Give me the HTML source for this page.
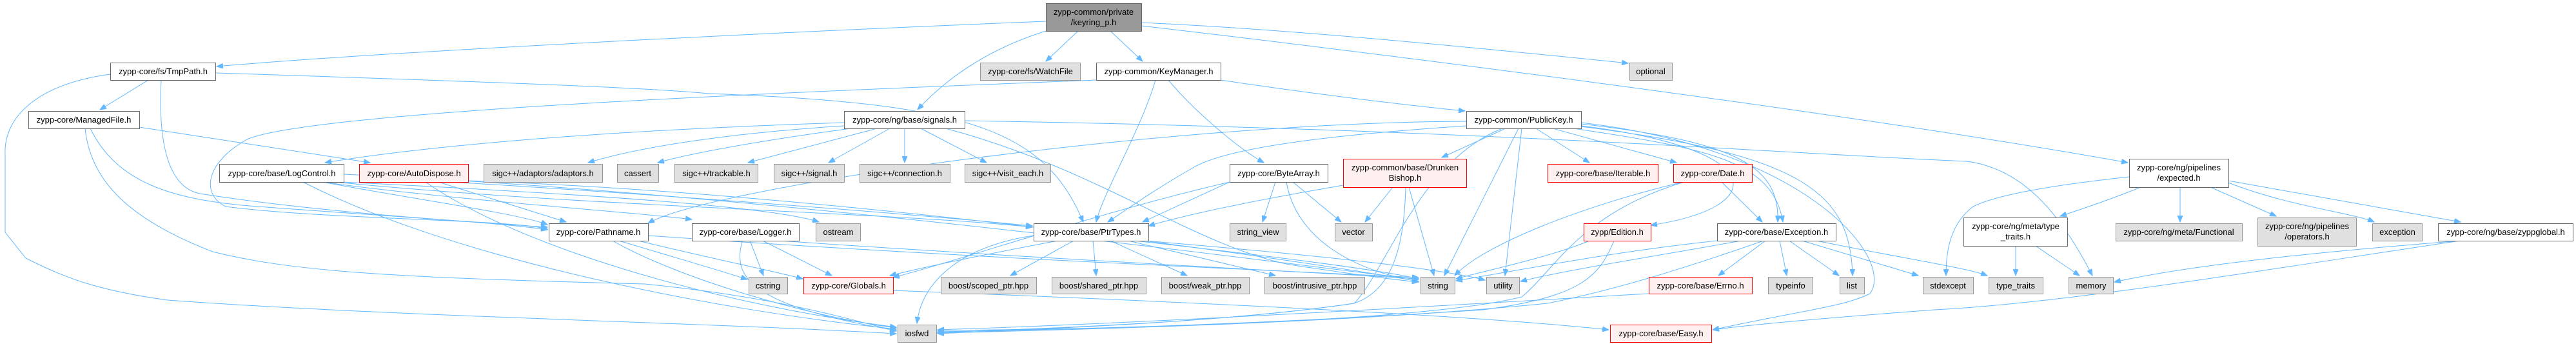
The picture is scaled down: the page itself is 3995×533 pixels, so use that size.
<!DOCTYPE html>
<html><head><meta charset="utf-8"><style>
html,body{margin:0;padding:0;background:#fff}
svg{display:block}
text{font-family:"Liberation Sans",Arial,sans-serif;font-size:13px;fill:#000;text-anchor:middle}
.w{fill:#fff;stroke:#666;stroke-width:1}
.g{fill:#e0e0e0;stroke:#999;stroke-width:1}
.r{fill:#fff0f0;stroke:#f00;stroke-width:1}
.k{fill:#999;stroke:#666;stroke-width:1}
.e path{fill:none;stroke:#63b8ff;stroke-width:1;marker-end:url(#a)}
</style></head><body>
<svg width="3995" height="533" viewBox="0 0 3995 533" xmlns="http://www.w3.org/2000/svg">
<defs><marker id="a" markerUnits="userSpaceOnUse" markerWidth="11" markerHeight="8" refX="10" refY="4" orient="auto"><path d="M0,0 L10,4 L0,8 z" fill="#63b8ff" stroke="#63b8ff"/></marker></defs>
<g class="e">
<path d="M1622,33 C1200,50 600,80 336,103"/>
<path d="M1622,48 C1520,80 1460,130 1423,170"/>
<path d="M1672,48 L1622,95"/>
<path d="M1722,48 L1772,95"/>
<path d="M1770,35 C2000,45 2300,75 2525,98"/>
<path d="M1770,40 C2200,90 2900,180 3300,252"/>
<path d="M1893,124 C2000,140 2150,160 2272,172"/>
<path d="M1700,124 C1300,140 500,170 385,215 C320,250 310,300 350,320 C500,340 800,340 849,355"/>
<path d="M1792,124 C1770,200 1710,300 1700,344"/>
<path d="M1812,124 C1850,170 1920,230 1960,252"/>
<path d="M230,124 L155,170"/>
<path d="M250,124 C245,220 260,290 310,300 C500,330 750,345 849,352"/>
<path d="M171,115 C60,130 5,180 8,240 L8,360 L40,400 C100,430 150,450 260,465 C600,490 1100,500 1390,517"/>
<path d="M334,113 C700,125 1000,135 1100,145 C1500,160 1620,200 1680,344"/>
<path d="M216,197 L574,252"/>
<path d="M140,199 C180,280 260,310 400,320 C600,335 780,345 849,356"/>
<path d="M132,199 C140,280 200,340 330,390 C450,420 600,430 1000,440 C1200,460 1300,490 1390,513"/>
<path d="M1309,190 C1000,200 700,220 504,252"/>
<path d="M1309,195 C1150,205 1000,225 912,252"/>
<path d="M1320,199 C1200,215 1080,235 1020,252"/>
<path d="M1360,199 L1160,252"/>
<path d="M1380,199 L1285,252"/>
<path d="M1403,199 L1403,252"/>
<path d="M1428,199 L1530,252"/>
<path d="M1496,187 C2300,200 2800,240 3050,250 C3130,260 3190,320 3245,427"/>
<path d="M1466,199 C1700,260 1850,380 2000,410 C2100,425 2150,432 2200,437"/>
<path d="M500,282 C650,310 800,330 849,348"/>
<path d="M520,282 C900,320 1400,330 1601,352"/>
<path d="M500,282 C700,310 1000,330 1073,340"/>
<path d="M530,282 C900,300 1200,320 1270,344"/>
<path d="M470,282 C700,400 1100,480 1390,510"/>
<path d="M533,270 C1200,300 2000,410 2200,433"/>
<path d="M680,282 L878,344"/>
<path d="M700,282 C1000,300 1400,330 1601,350"/>
<path d="M660,282 C800,380 1100,470 1390,507"/>
<path d="M726,280 C1300,300 2000,400 2200,436"/>
<path d="M960,373 C1050,400 1120,420 1159,433"/>
<path d="M990,373 C1100,400 1200,420 1245,432"/>
<path d="M950,373 C1050,430 1250,490 1390,508"/>
<path d="M1005,365 C1500,400 2000,420 2200,430"/>
<path d="M1163,373 L1184,427"/>
<path d="M1183,373 L1290,427"/>
<path d="M1151,373 C1140,420 1140,470 1390,512"/>
<path d="M1210,373 C1600,400 2000,420 2200,432"/>
<path d="M1640,373 C1550,390 1450,410 1380,427"/>
<path d="M1665,373 L1567,427"/>
<path d="M1695,373 L1700,427"/>
<path d="M1722,373 L1841,427"/>
<path d="M1750,373 L1978,427"/>
<path d="M1603,365 C1500,380 1430,430 1422,501"/>
<path d="M1760,373 C2000,400 2150,420 2200,432"/>
<path d="M1775,373 C2100,400 2250,420 2303,434"/>
<path d="M1907,282 L1772,344"/>
<path d="M1978,282 L1958,344"/>
<path d="M2005,282 L2080,344"/>
<path d="M1995,282 C2010,370 2100,420 2200,436"/>
<path d="M1907,282 C1700,330 1500,400 1385,430"/>
<path d="M2335,199 L2236,244"/>
<path d="M2382,199 L2465,252"/>
<path d="M2408,199 L2600,252"/>
<path d="M2452,192 C2700,220 2760,260 2757,344"/>
<path d="M2440,199 C2650,230 2750,250 2765,344"/>
<path d="M2452,195 C2740,230 2750,320 2560,349"/>
<path d="M2355,199 L2240,427"/>
<path d="M2360,199 L2334,427"/>
<path d="M2452,196 C2800,240 2870,300 2873,427"/>
<path d="M2452,190 C2800,230 2940,400 2900,455 C2860,475 2800,480 2656,511"/>
<path d="M2274,195 C2050,210 1900,230 1850,260 C1780,300 1740,330 1718,344"/>
<path d="M2274,188 C1800,190 1100,290 1005,346"/>
<path d="M2330,199 C2200,250 2150,420 2100,470 C1900,500 1600,510 1454,515"/>
<path d="M2160,290 L2117,344"/>
<path d="M2185,290 L2224,427"/>
<path d="M2180,290 C2178,380 2160,450 2100,470 C1900,500 1600,510 1454,517"/>
<path d="M2083,287 C1950,310 1850,330 1781,350"/>
<path d="M2670,282 L2733,344"/>
<path d="M2610,282 C2450,320 2300,380 2256,427"/>
<path d="M2612,282 C2450,330 2410,420 2360,460 C2200,500 1700,510 1454,512"/>
<path d="M2465,373 C2400,400 2300,420 2258,432"/>
<path d="M2503,373 C2480,430 2450,460 2300,480 C2000,500 1700,510 1454,514"/>
<path d="M2663,373 C2500,390 2350,420 2258,435"/>
<path d="M2700,373 C2550,400 2420,420 2358,436"/>
<path d="M2738,373 L2665,427"/>
<path d="M2760,373 L2771,427"/>
<path d="M2775,373 L2852,427"/>
<path d="M2795,373 L2975,427"/>
<path d="M2817,373 C2950,400 3050,415 3082,427"/>
<path d="M2735,373 C2600,420 2500,450 2400,470 C2100,500 1700,510 1454,516"/>
<path d="M2557,455 C2300,470 1800,500 1454,511"/>
<path d="M1385,450 C1900,470 2300,490 2495,511"/>
<path d="M3320,290 C3270,310 3240,320 3195,335"/>
<path d="M3381,290 L3381,344"/>
<path d="M3428,290 L3530,335"/>
<path d="M3456,283 C3550,320 3650,330 3682,344"/>
<path d="M3456,280 L3816,344"/>
<path d="M3302,274 C3200,285 3100,300 3060,320 C3020,350 3018,400 3018,427"/>
<path d="M3126,381 L3126,427"/>
<path d="M3157,381 L3225,427"/>
<path d="M3815,373 C3600,390 3400,410 3279,437"/>
<path d="M3815,373 C3500,420 3200,470 3000,480 C2800,495 2700,505 2656,511"/>
</g>
<g>
<rect class="k" x="1622.5" y="5.5" width="148" height="43"/><text x="1696" y="23">zypp-common/private</text><text x="1696" y="39">/keyring_p.h</text>
<rect class="w" x="171.5" y="97.5" width="163" height="27"/><text x="253" y="115">zypp-core/fs/TmpPath.h</text>
<rect class="g" x="1520.5" y="97.5" width="155" height="27"/><text x="1598" y="115">zypp-core/fs/WatchFile</text>
<rect class="w" x="1700.5" y="97.5" width="193" height="27"/><text x="1797" y="115">zypp-common/KeyManager.h</text>
<rect class="g" x="2527.5" y="97.5" width="66" height="27"/><text x="2560" y="115">optional</text>
<rect class="w" x="44.5" y="172.5" width="172" height="27"/><text x="130" y="190">zypp-core/ManagedFile.h</text>
<rect class="w" x="1309.5" y="172.5" width="187" height="27"/><text x="1403" y="190">zypp-core/ng/base/signals.h</text>
<rect class="w" x="2274.5" y="172.5" width="178" height="27"/><text x="2363" y="190">zypp-common/PublicKey.h</text>
<rect class="w" x="3302.5" y="246.5" width="154" height="44"/><text x="3379" y="264">zypp-core/ng/pipelines</text><text x="3379" y="280">/expected.h</text>
<rect class="w" x="340.5" y="254.5" width="193" height="28"/><text x="437" y="273">zypp-core/base/LogControl.h</text>
<rect class="r" x="557.5" y="254.5" width="169" height="28"/><text x="642" y="273">zypp-core/AutoDispose.h</text>
<rect class="g" x="750.5" y="254.5" width="184" height="28"/><text x="842" y="273">sigc++/adaptors/adaptors.h</text>
<rect class="g" x="957.5" y="254.5" width="64" height="28"/><text x="989" y="273">cassert</text>
<rect class="g" x="1046.5" y="254.5" width="129" height="28"/><text x="1111" y="273">sigc++/trackable.h</text>
<rect class="g" x="1200.5" y="254.5" width="109" height="28"/><text x="1255" y="273">sigc++/signal.h</text>
<rect class="g" x="1333.5" y="254.5" width="140" height="28"/><text x="1403" y="273">sigc++/connection.h</text>
<rect class="g" x="1496.5" y="254.5" width="133" height="28"/><text x="1563" y="273">sigc++/visit_each.h</text>
<rect class="w" x="1907.5" y="254.5" width="152" height="28"/><text x="1983" y="273">zypp-core/ByteArray.h</text>
<rect class="r" x="2083.5" y="246.5" width="191" height="44"/><text x="2179" y="264">zypp-common/base/Drunken</text><text x="2179" y="280">Bishop.h</text>
<rect class="r" x="2400.5" y="254.5" width="171" height="28"/><text x="2486" y="273">zypp-core/base/Iterable.h</text>
<rect class="r" x="2595.5" y="254.5" width="122" height="28"/><text x="2656" y="273">zypp-core/Date.h</text>
<rect class="w" x="851.5" y="346.5" width="154" height="27"/><text x="928" y="364">zypp-core/Pathname.h</text>
<rect class="w" x="1073.5" y="346.5" width="166" height="27"/><text x="1156" y="364">zypp-core/base/Logger.h</text>
<rect class="g" x="1265.5" y="346.5" width="69" height="27"/><text x="1300" y="364">ostream</text>
<rect class="w" x="1603.5" y="346.5" width="178" height="27"/><text x="1692" y="364">zypp-core/base/PtrTypes.h</text>
<rect class="g" x="1907.5" y="346.5" width="87" height="27"/><text x="1951" y="364">string_view</text>
<rect class="g" x="2070.5" y="346.5" width="58" height="27"/><text x="2099" y="364">vector</text>
<rect class="r" x="2456.5" y="346.5" width="104" height="27"/><text x="2508" y="364">zypp/Edition.h</text>
<rect class="w" x="2663.5" y="346.5" width="184" height="27"/><text x="2755" y="364">zypp-core/base/Exception.h</text>
<rect class="w" x="3045.5" y="337.5" width="161" height="44"/><text x="3126" y="355">zypp-core/ng/meta/type</text><text x="3126" y="371">_traits.h</text>
<rect class="g" x="3281.5" y="346.5" width="196" height="27"/><text x="3379" y="364">zypp-core/ng/meta/Functional</text>
<rect class="g" x="3501.5" y="337.5" width="153" height="44"/><text x="3578" y="355">zypp-core/ng/pipelines</text><text x="3578" y="371">/operators.h</text>
<rect class="g" x="3679.5" y="346.5" width="77" height="27"/><text x="3718" y="364">exception</text>
<rect class="w" x="3781.5" y="346.5" width="209" height="27"/><text x="3886" y="364">zypp-core/ng/base/zyppglobal.h</text>
<rect class="g" x="1161.5" y="429.5" width="60" height="26"/><text x="1191" y="447">cstring</text>
<rect class="r" x="1246.5" y="429.5" width="139" height="26"/><text x="1316" y="447">zypp-core/Globals.h</text>
<rect class="g" x="1459.5" y="429.5" width="148" height="26"/><text x="1533" y="447">boost/scoped_ptr.hpp</text>
<rect class="g" x="1631.5" y="429.5" width="146" height="26"/><text x="1704" y="447">boost/shared_ptr.hpp</text>
<rect class="g" x="1801.5" y="429.5" width="136" height="26"/><text x="1869" y="447">boost/weak_ptr.hpp</text>
<rect class="g" x="1961.5" y="429.5" width="155" height="26"/><text x="2039" y="447">boost/intrusive_ptr.hpp</text>
<rect class="g" x="2203.5" y="429.5" width="53" height="26"/><text x="2230" y="447">string</text>
<rect class="g" x="2305.5" y="429.5" width="51" height="26"/><text x="2331" y="447">utility</text>
<rect class="r" x="2557.5" y="429.5" width="160" height="26"/><text x="2637" y="447">zypp-core/base/Errno.h</text>
<rect class="g" x="2742.5" y="429.5" width="69" height="26"/><text x="2777" y="447">typeinfo</text>
<rect class="g" x="2853.5" y="429.5" width="38" height="26"/><text x="2872" y="447">list</text>
<rect class="g" x="2982.5" y="429.5" width="78" height="26"/><text x="3021" y="447">stdexcept</text>
<rect class="g" x="3084.5" y="429.5" width="84" height="26"/><text x="3126" y="447">type_traits</text>
<rect class="g" x="3208.5" y="429.5" width="69" height="26"/><text x="3243" y="447">memory</text>
<rect class="g" x="1392.5" y="503.5" width="60" height="27"/><text x="1422" y="521">iosfwd</text>
<rect class="r" x="2497.5" y="503.5" width="157" height="27"/><text x="2576" y="521">zypp-core/base/Easy.h</text>
</g>
</svg>
</body></html>
